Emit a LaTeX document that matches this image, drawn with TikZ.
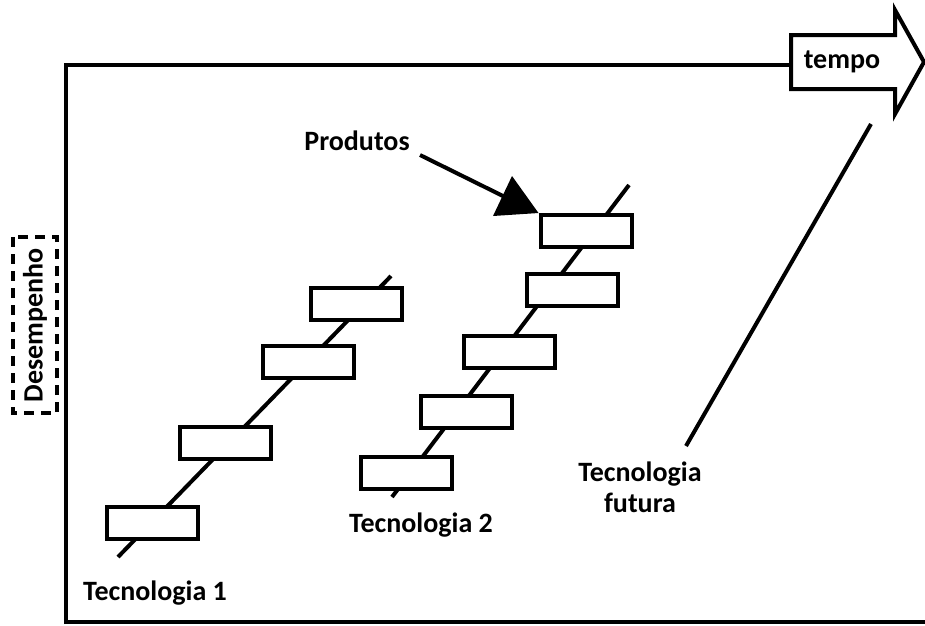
\documentclass[tikz,border=0pt]{standalone}
\usepackage{fontspec}
\setmainfont{Carlito}
\begin{document}
\begin{tikzpicture}[x=1pt,y=-1pt,
  ln/.style={line width=4pt},
  prod/.style={draw,line width=4pt,fill=white,rectangle,minimum width=91pt,minimum height=32pt,inner sep=0pt},
  lbl/.style={font=\fontsize{28}{32}\selectfont\bfseries,inner sep=0pt,align=center}]
\useasboundingbox (0,0) rectangle (925,625);
% frame: left and bottom axes, top axis to the time arrow
\draw[ln] (66,622) -- (925,622);
\draw[ln] (66,624) -- (66,65) -- (791,65);
% time arrow
\draw[ln,line join=miter,fill=white] (791,35) -- (895,35) -- (895,10) -- (924,62) -- (895,114) -- (895,89) -- (791,89) -- cycle;
\node[lbl] (tempo) at (842,62) {tempo};
% axis label
\node[lbl,rotate=90,draw,line width=3.2pt,dash pattern=on 10pt off 7pt,minimum width=176pt,minimum height=44pt] (perf) at (35,325) {Desempenho};
% technology lines
\coordinate (t1a) at (118,557); \coordinate (t1b) at (391,276);
\coordinate (t2a) at (392,497); \coordinate (t2b) at (629,185);
\coordinate (tfa) at (686,446); \coordinate (tfb) at (871,124);
\draw[ln] (t1a) -- (t1b);
\draw[ln] (t2a) -- (t2b);
\draw[ln] (tfa) -- (tfb);
% products of technology 1
\node[prod] (p11) at (152,523) {};
\node[prod] (p12) at (225,443) {};
\node[prod] (p13) at (308,362) {};
\node[prod] (p14) at (356,304) {};
% products of technology 2
\node[prod] (p21) at (406,473) {};
\node[prod] (p22) at (466,412) {};
\node[prod] (p23) at (509,352) {};
\node[prod] (p24) at (572,290) {};
\node[prod] (p25) at (586,231) {};
% labels
\node[lbl] (t1) at (155,593) {Tecnologia 1};
\node[lbl] (t2) at (421,525) {Tecnologia 2};
\node[lbl] (tf) at (640,487) {Tecnologia\\[-1pt]futura};
\node[lbl] (prodl) at (357,141) {Produtos};
% pointer to a product
\coordinate (ptail) at (420,155);
\draw[ln] (ptail) -- (505,197);
\fill (493,216) -- (512,176) -- (p25.north west) -- cycle;
\end{tikzpicture}
\end{document}
